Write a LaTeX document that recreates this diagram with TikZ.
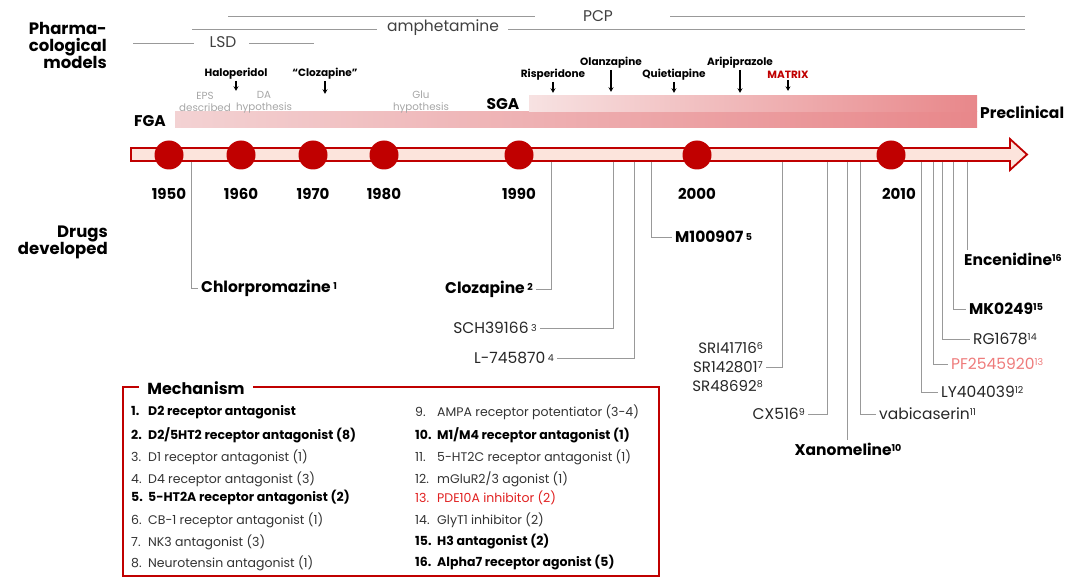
\documentclass[tikz,border=0pt]{standalone}
\usepackage{fontspec}
\setmainfont{Poppins}
\usetikzlibrary{arrows.meta}
\definecolor{darkred}{HTML}{C00000}
\definecolor{barfill}{HTML}{FCE4DC}
\definecolor{fgaleft}{HTML}{F3D2D3}
\definecolor{sgaleft}{HTML}{F7E2E2}
\definecolor{barright}{HTML}{E8878A}
\definecolor{pinktext}{HTML}{EE7B7B}
\definecolor{redtext}{HTML}{E02020}
\newcommand{\sn}[1]{\,{\fontsize{9.5}{10}\selectfont\raisebox{2.5pt}{#1}}}
\newcommand{\refno}[1]{{\fontsize{9.5}{10}\selectfont\raisebox{4.5pt}{#1}}}

\begin{document}
\begin{tikzpicture}[x=1pt,y=-1pt]
\useasboundingbox (0,0) rectangle (1068,585);
 \tikzstyle{side}=[font=\bfseries\fontsize{16.5}{17}\selectfont, align=right, anchor=east, inner sep=0pt]
 \tikzstyle{model}=[font=\fontsize{15.5}{16}\selectfont, text=black!75, inner sep=0pt]
 \tikzstyle{mline}=[draw=black!40, line width=0.7pt]
 \tikzstyle{marker}=[font=\bfseries\fontsize{10.5}{11}\selectfont, inner sep=0pt]
 \tikzstyle{down}=[-{Stealth[length=4.5pt,width=5pt]}, line width=1.1pt]
 \tikzstyle{note}=[font=\fontsize{10.3}{12}\selectfont, text=black!35, align=center, inner sep=0pt]
 \tikzstyle{era}=[font=\bfseries\fontsize{15.5}{17}\selectfont, inner sep=0pt]
 \tikzstyle{dot}=[circle, fill=darkred, minimum size=29pt, inner sep=0pt]
 \tikzstyle{year}=[font=\bfseries\fontsize{15}{17}\selectfont, inner sep=0pt]
 \tikzstyle{drug}=[font=\fontsize{15.5}{16}\selectfont, text=black!85, inner sep=3pt]
 \tikzstyle{bdrug}=[drug, font=\bfseries\fontsize{15.5}{16}\selectfont, text=black]
 \tikzstyle{conn}=[draw=black!40, line width=0.8pt]
 \tikzstyle{ir}=[font=\fontsize{12.5}{13}\selectfont, text=black!80, anchor=west, inner sep=0pt]
 \tikzstyle{ib}=[ir, font=\bfseries\fontsize{12.5}{13}\selectfont, text=black]
 \tikzstyle{ired}=[ir, text=redtext]

% side labels
\node[side] (pharm) at (107,45) {Pharma-\\cological\\models};
\node[side] (drugs) at (108,242) {Drugs\\developed};

% pharmacological models
\node[model] (pcp) at (598,16) {PCP};
\node[model] (amph) at (443,28) {amphetamine};
\node[model] (lsd) at (223,42) {LSD};
\draw[mline] (228,16) -- (535,16) (670,16) -- (1025,16);
\draw[mline] (192,29) -- (377,29) (508,29) -- (1025,29);
\draw[mline] (133,43) -- (194,43) (249,43) -- (314,43);

% FGA / SGA bands
\shade[left color=fgaleft, right color=barright] (175,112) rectangle (977,128);
\shade[left color=sgaleft, right color=barright] (529,96) rectangle (977,112);
\node[era, anchor=east] (fga) at (166,121) {FGA};
\node[era] (sga) at (503,104) {SGA};
\node[era, anchor=west] (precl) at (980,112) {Preclinical};

\node[note] (eps) at (205,102) {EPS\\described};
\node[note] (da) at (264,102) {DA\\hypothesis};
\node[note] (glu) at (421,102) {Glu\\hypothesis};

% drugs with arrows
\node[marker] (hal) at (236,74) {Haloperidol};
\node[marker] (czq) at (325,74) {“Clozapine”};
\node[marker] (risp) at (553,75) {Risperidone};
\node[marker] (olan) at (611,63) {Olanzapine};
\node[marker] (quet) at (674,75) {Quietiapine};
\node[marker] (arip) at (740,63) {Aripiprazole};
\node[marker, text=darkred] (matrix) at (788,75) {MATRIX};
\foreach \n/\l in {hal/10,czq/13,risp/11,olan/22,quet/11,arip/23,matrix/11}{\draw[down] ([yshift=-1pt]\n.south) -- ++(0,\l);}

% timeline
\draw[draw=darkred, fill=barfill, line width=1.8pt, line join=miter]
  (131,148) -- (1010,148) -- (1010,139) -- (1027,154.5) -- (1010,170) -- (1010,161) -- (131,161) -- cycle;
\foreach \y/\x in {1950/169,1960/241,1970/313,1980/384,1990/519,2000/697,2010/891}{
  \node[dot] (d\y) at (\x,155) {};
}
\foreach \y/\x in {1950/169,1960/241,1970/313,1980/384,1990/519,2000/697,2010/899}{
  \node[year] (y\y) at (\x,194) {\y};
}

% drugs developed
\node[bdrug, anchor=west] (chl) at (198,288) {Chlorpromazine\sn{1}};
\node[bdrug, anchor=east] (clz) at (536,289) {Clozapine\sn{2}};
\node[drug, anchor=east] (sch) at (540,328) {SCH39166\sn{3}};
\node[drug, anchor=east] (lsev) at (557,358) {L-745870\sn{4}};
\node[bdrug, anchor=west] (mdl) at (672,237) {M100907\sn{5}};
\node[drug, anchor=east, align=right, font=\fontsize{15}{19}\selectfont] (sr) at (766,367) {SRI41716\refno{6}\\SR142801\refno{7}\\SR48692\refno{8}};
\node[drug, anchor=east] (cx) at (808,414) {CX516\refno{9}};
\node[bdrug, anchor=north] (xan) at (848,440) {Xanomeline\refno{10}};
\node[drug, anchor=west] (vab) at (876,414) {vabicaserin\refno{11}};
\node[drug, anchor=west] (ly) at (938,392) {LY404039\refno{12}};
\node[drug, anchor=west, text=pinktext] (pf) at (948,364) {PF2545920\refno{13}};
\node[drug, anchor=west] (rg) at (970,339) {RG1678\refno{14}};
\node[bdrug, anchor=west] (mk) at (966,309) {MK0249\refno{15}};
\node[bdrug, anchor=north west] (enc) at (961,250) {Encenidine\refno{16}};

\foreach \n/\x in {chl/191,clz/551,sch/613,lsev/634,mdl/651,sr/782,cx/827,xan/847,vab/860,ly/921,pf/933,rg/942,mk/953,enc/967}{
  \coordinate (t\n) at (\x,162);
}
\foreach \n in {chl,mdl,vab,ly,pf,rg,mk}{\draw[conn] (t\n) |- (\n.west);}
\foreach \n in {clz,sch,lsev,sr,cx}{\draw[conn] (t\n) |- (\n.east);}
\draw[conn] (txan) -- (txan |- xan.north);
\draw[conn] (tenc) -- (tenc |- enc.north);

% mechanism box
\draw[darkred, line width=1.6pt] (123,387) rectangle (659,576);
\node[fill=white, font=\bfseries\fontsize{16}{17}\selectfont, inner xsep=8pt, inner ysep=2pt] (mech) at (196,388) {Mechanism};
\foreach \k/\y/\s/\t in {1/412/ib/{D2 receptor antagonist},2/435/ib/{D2/5HT2 receptor antagonist (8)},3/457/ir/{D1 receptor antagonist (1)},4/479/ir/{D4 receptor antagonist (3)},5/498/ib/{5-HT2A receptor antagonist (2)},6/520/ir/{CB-1 receptor antagonist (1)},7/542/ir/{NK3 antagonist (3)},8/563/ir/{Neurotensin antagonist (1)}}{
  \node[\s] (m\k) at (131,\y) {\makebox[17pt][l]{\k.}\t};
}
\foreach \k/\y/\s/\t in {9/412/ir/{AMPA receptor potentiator (3-4)},10/435/ib/{M1/M4 receptor antagonist (1)},11/457/ir/{5-HT2C receptor antagonist (1)},12/479/ir/{mGluR2/3 agonist (1)},13/498/ired/{PDE10A inhibitor (2)},14/520/ir/{GlyT1 inhibitor (2)},15/542/ib/{H3 antagonist (2)},16/563/ib/{Alpha7 receptor agonist (5)}}{
  \node[\s] (m\k) at (415,\y) {\makebox[22pt][l]{\k.}\t};
}
\end{tikzpicture}
\end{document}
